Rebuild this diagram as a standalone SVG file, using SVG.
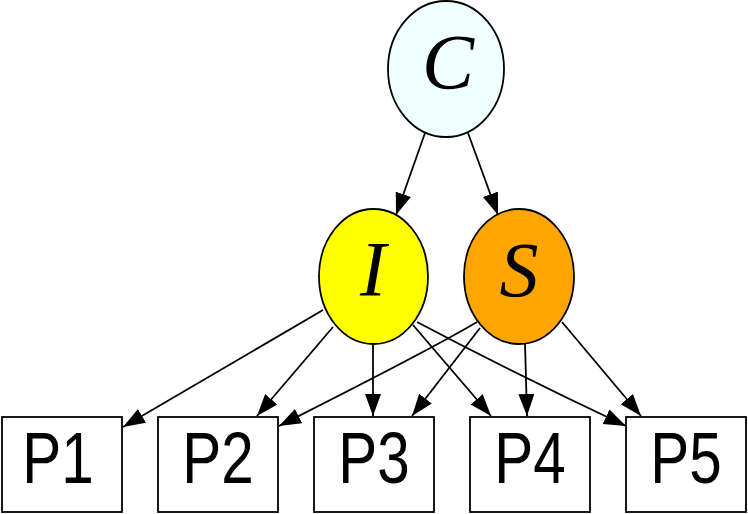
<svg xmlns="http://www.w3.org/2000/svg" width="748" height="514" viewBox="0 0 748 514">
<defs>
<marker id="arr" markerUnits="userSpaceOnUse" markerWidth="24" markerHeight="18" refX="22" refY="8" orient="auto">
<path d="M0,0 L22,8 L0,16 Z" fill="#000"/>
</marker>
<style>
.e{stroke:#000;stroke-width:1.8}
.b{fill:#fff;stroke:#000;stroke-width:1.8}
.it{font-family:"Liberation Serif","Times New Roman",serif;font-style:italic;font-size:78px;text-anchor:middle;fill:#000}
.p{font-family:"Liberation Sans",Arial,sans-serif;font-size:73px;text-anchor:middle;fill:#000}
.c{fill:none;stroke:#000;stroke-width:1.8;marker-end:url(#arr)}
</style>
</defs>
<g id="edges">
<path class="c" d="M425,133 L396,215"/>
<path class="c" d="M468,133 L498,215"/>
<path class="c" d="M323,310 L123,427"/>
<path class="c" d="M333,327 L257,416"/>
<path class="c" d="M373,344 L373,416"/>
<path class="c" d="M413,325 L491,416"/>
<path class="c" d="M417,322 C470,350 560,395 626,426"/>
<path class="c" d="M477,322 C430,350 340,395 279,426"/>
<path class="c" d="M480,328 L412,416"/>
<path class="c" d="M525,343 L527,416"/>
<path class="c" d="M562,322 L641,416"/>
</g>
<g id="C">
<ellipse class="e" cx="446" cy="69" rx="58" ry="68" fill="#F0FFFF"/>
<text class="it" x="448" y="88">C</text>
</g>
<g id="I">
<ellipse class="e" cx="373.5" cy="276.5" rx="54.5" ry="67.5" fill="#FFFF00"/>
<text class="it" x="373" y="295">I</text>
</g>
<g id="S">
<ellipse class="e" cx="519" cy="276.5" rx="55" ry="67.5" fill="#FFA500"/>
<text class="it" x="519" y="296">S</text>
</g>
<g id="P1"><rect class="b" x="2" y="417" width="120" height="95"/><text class="p" transform="translate(58,483) scale(0.8,1)">P1</text></g>
<g id="P2"><rect class="b" x="158" y="417" width="120" height="95"/><text class="p" transform="translate(218,483) scale(0.8,1)">P2</text></g>
<g id="P3"><rect class="b" x="314" y="417" width="120" height="95"/><text class="p" transform="translate(374,483) scale(0.8,1)">P3</text></g>
<g id="P4"><rect class="b" x="470" y="417" width="120" height="95"/><text class="p" transform="translate(530,483) scale(0.8,1)">P4</text></g>
<g id="P5"><rect class="b" x="626" y="417" width="120" height="95"/><text class="p" transform="translate(686,483) scale(0.8,1)">P5</text></g>
</svg>
